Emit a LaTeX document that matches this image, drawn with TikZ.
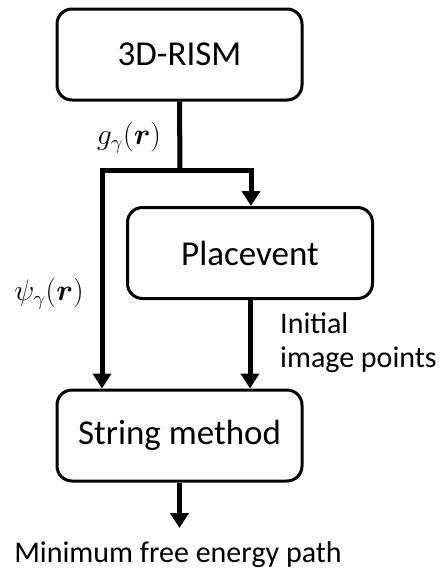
\documentclass[tikz,border=0pt]{standalone}
\usepackage{fontspec}
\setmainfont{Carlito}
\usepackage{amsmath}
\usepackage{bm}
\usetikzlibrary{arrows.meta}
\begin{document}
\begin{tikzpicture}[x=1pt,y=-1pt,
  box/.style={draw,line width=3pt,rounded corners=15pt,minimum width=245pt,minimum height=91pt,inner sep=0pt,font=\fontsize{35}{38}\selectfont},
  lbl/.style={inner sep=0pt,font=\fontsize{30}{34}\selectfont},
  mlbl/.style={inner sep=0pt,scale=1.2,font=\fontsize{24}{28}\selectfont},
  conn/.style={line width=5pt,line join=miter},
  arr/.style={conn,-{Triangle[width=18pt,length=15pt]}}]
\useasboundingbox (0,0) rectangle (440,571);
\node[box] (rism) at (179.5,54.5) {3D-RISM};
\node[box] (place) at (250,253) {Placevent};
\node[box] (sm) at (179.5,435.5) {String method};
\coordinate (j) at (180,170);
\coordinate (jl) at (102,170);
\coordinate (jr) at (251,170);
\coordinate (endout) at (179.5,528);
\node[mlbl] (g) at (129,138) {$g_\gamma(\bm{r})$};
\node[mlbl] (psi) at (49,294) {$\psi_\gamma(\bm{r})$};
\node[lbl,anchor=west,align=left] (init) at (280,343) {Initial\\image points};
\node[lbl] (out) at (178,555) {Minimum free energy path};
\draw[conn] (rism.south) -- (j);
\draw[conn,{Triangle[width=18pt,length=15pt]}-{Triangle[width=18pt,length=15pt]}] (jl |- sm.north) -- (jl) -- (jr) -- (jr |- place.north);
\draw[arr] (place.south) -- (place.south |- sm.north);
\draw[arr] (sm.south) -- (endout);
\end{tikzpicture}
\end{document}
